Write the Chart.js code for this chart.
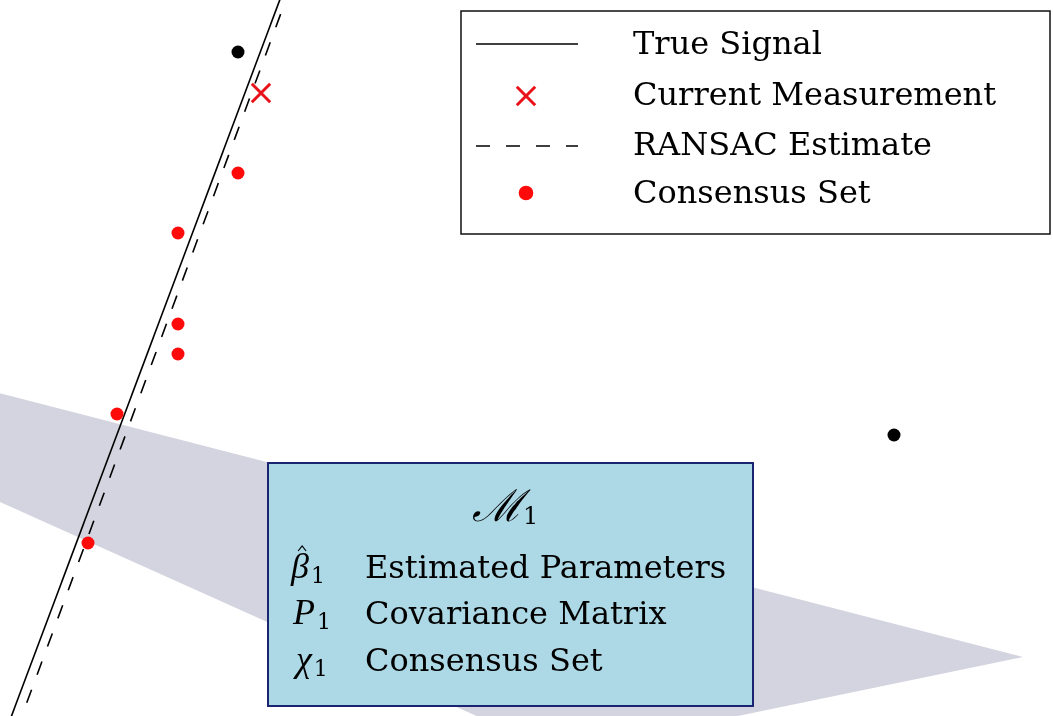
<!DOCTYPE html>
<html>
<head>
<meta charset="utf-8">
<script src="https://cdn.jsdelivr.net/npm/chart.js@4.4.1/dist/chart.umd.min.js"></script>
<style>
  html, body { margin: 0; padding: 0; background: #fff; overflow: hidden; }
  canvas { display: block; }
</style>
</head>
<body>
<canvas id="c" width="1053" height="716"></canvas>
<script>
// Plane extent (data units)
const xLimits = [0, 10.53];
const yLimits = [0, 7.16];

// Underlying line and the RANSAC fit (endpoints run past the frame)
const trueSignal = [{ x: 2.85, y: 7.30 }, { x: 0.04, y: -0.20 }];
const ransacEstimate = [{ x: 2.91, y: 7.30 }, { x: 0.145, y: -0.20 }];

// Measurements
const consensusSet = [
  { x: 2.38, y: 5.43 }, { x: 1.78, y: 4.83 }, { x: 1.78, y: 3.92 },
  { x: 1.78, y: 3.62 }, { x: 1.17, y: 3.02 }, { x: 0.88, y: 1.73 }
];
const outliers = [{ x: 2.38, y: 6.64 }, { x: 8.94, y: 2.81 }];
const currentMeasurement = [{ x: 2.61, y: 6.23 }];

// Uncertainty wedge of model M1
const covarianceRegion = [
  { x: -0.2, y: 3.28 }, { x: 10.23, y: 0.59 }, { x: 5.59, y: -0.37 },
  { x: -0.2, y: 2.23 }, { x: -0.2, y: 3.28 }
];

// Text
const legendLabels = ['True Signal', 'Current Measurement', 'RANSAC Estimate', 'Consensus Set'];
const modelTitle = 'ℳ';
const modelIndex = '1';
const modelSymbols = ['β', 'P', 'χ'];
const modelEntries = ['Estimated Parameters', 'Covariance Matrix', 'Consensus Set'];

const RED = '#ff0a0a';
const TEXT_FONT = '"DejaVu Serif", "Liberation Serif", serif';

const overlayPlugin = {
  id: 'overlay',
  afterDatasetsDraw(chart) {
    const ctx = chart.ctx;
    ctx.save();

    // Model box
    const bx = 268, by = 463, bw = 485, bh = 243;
    ctx.fillStyle = '#add8e6';
    ctx.fillRect(bx, by, bw, bh);
    ctx.lineWidth = 2;
    ctx.strokeStyle = '#1b2470';
    ctx.strokeRect(bx, by, bw, bh);

    ctx.fillStyle = '#000';
    ctx.textBaseline = 'alphabetic';
    ctx.textAlign = 'left';
    ctx.font = 'italic 44px "Liberation Serif", serif';
    ctx.fillText(modelTitle, 472, 521);
    ctx.font = '24px ' + TEXT_FONT;
    ctx.fillText(modelIndex, 523, 524);

    const rowBase = [578, 624, 671];
    const symX = [291, 293, 296];
    modelEntries.forEach((txt, i) => {
      ctx.font = 'italic 36px "Liberation Serif", serif';
      ctx.fillText(modelSymbols[i], symX[i], rowBase[i]);
      const w = ctx.measureText(modelSymbols[i]).width;
      if (i === 0) {
        // estimate hat over beta
        ctx.beginPath();
        ctx.lineWidth = 1.2;
        ctx.strokeStyle = '#000';
        const hx = symX[i] + w * 0.62, hy = rowBase[i] - 30;
        ctx.moveTo(hx - 4, hy + 3);
        ctx.lineTo(hx, hy - 2);
        ctx.lineTo(hx + 4, hy + 3);
        ctx.stroke();
      }
      ctx.font = '22px ' + TEXT_FONT;
      ctx.fillText(modelIndex, symX[i] + w + 2, rowBase[i] + 5);
      ctx.font = '32px ' + TEXT_FONT;
      ctx.fillText(txt, 365, rowBase[i]);
    });

    // Legend box
    const lx = 461, ly = 11, lw = 589, lh = 223;
    ctx.fillStyle = '#fff';
    ctx.fillRect(lx, ly, lw, lh);
    ctx.lineWidth = 1.5;
    ctx.strokeStyle = '#111';
    ctx.strokeRect(lx, ly, lw, lh);

    const symRows = [44, 96, 146, 193];
    const textBase = [54, 105, 155, 203];
    const byLabel = {};
    chart.data.datasets.forEach(d => { byLabel[d.label] = d; });
    legendLabels.forEach((lab, i) => {
      const d = byLabel[lab];
      const y = symRows[i];
      if (d.showLine) {
        ctx.beginPath();
        ctx.setLineDash(d.borderDash || []);
        ctx.lineDashOffset = 0;
        ctx.lineWidth = d.borderWidth;
        ctx.strokeStyle = d.borderColor;
        ctx.moveTo(476, y);
        ctx.lineTo(578, y);
        ctx.stroke();
        ctx.setLineDash([]);
      } else {
        ctx.fillStyle = d.backgroundColor;
        ctx.strokeStyle = d.borderColor;
        ctx.lineWidth = d.pointBorderWidth != null ? d.pointBorderWidth : 1;
        Chart.helpers.drawPoint(ctx, {
          pointStyle: d.pointStyle, radius: d.pointRadius,
          borderWidth: ctx.lineWidth, rotation: 0
        }, 526, y);
      }
      ctx.fillStyle = '#000';
      ctx.font = '32px ' + TEXT_FONT;
      ctx.fillText(lab, 633, textBase[i]);
    });

    ctx.restore();
  }
};

new Chart(document.getElementById('c').getContext('2d'), {
  type: 'scatter',
  data: {
    datasets: [
      {
        label: 'M1 region', data: covarianceRegion, showLine: true, fill: 'shape',
        backgroundColor: '#d3d4df', borderColor: 'rgba(0,0,0,0)', borderWidth: 1,
        pointRadius: 0, tension: 0, order: 10
      },
      {
        label: 'True Signal', data: trueSignal, showLine: true, fill: false,
        borderColor: '#000', borderWidth: 1.6, pointRadius: 0, order: 6
      },
      {
        label: 'RANSAC Estimate', data: ransacEstimate, showLine: true, fill: false,
        borderColor: '#000', borderWidth: 1.6, borderDash: [14, 16], pointRadius: 0, order: 5
      },
      {
        label: 'Outliers', data: outliers, showLine: false,
        backgroundColor: '#000', borderColor: '#000', pointRadius: 6.5, pointBorderWidth: 0, order: 2
      },
      {
        label: 'Consensus Set', data: consensusSet, showLine: false,
        backgroundColor: RED, borderColor: RED, pointRadius: 6.5, pointBorderWidth: 0, order: 2
      },
      {
        label: 'Current Measurement', data: currentMeasurement, showLine: false,
        pointStyle: 'crossRot', pointRadius: 13, pointBorderWidth: 3,
        backgroundColor: '#e8121a', borderColor: '#e8121a', order: 1
      }
    ]
  },
  options: {
    responsive: false,
    animation: false,
    events: [],
    layout: { padding: 0, autoPadding: false },
    plugins: { legend: { display: false }, tooltip: { enabled: false } },
    scales: {
      x: { type: 'linear', display: false, min: xLimits[0], max: xLimits[1] },
      y: { type: 'linear', display: false, min: yLimits[0], max: yLimits[1] }
    }
  },
  plugins: [overlayPlugin]
});
</script>
</body>
</html>
